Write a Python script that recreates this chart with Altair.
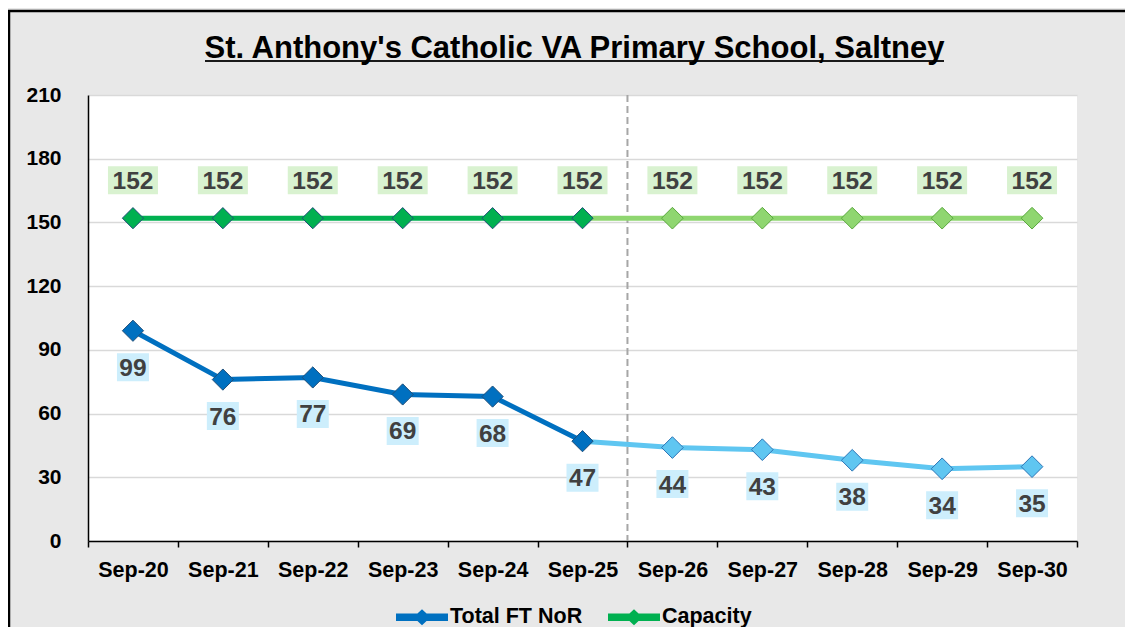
import altair as alt
import pandas as pd

# ---- data ----
categories = ["Sep-20", "Sep-21", "Sep-22", "Sep-23", "Sep-24", "Sep-25",
              "Sep-26", "Sep-27", "Sep-28", "Sep-29", "Sep-30"]
nor_values = [99, 76, 77, 69, 68, 47, 44, 43, 38, 34, 35]
capacity_values = [152, 152, 152, 152, 152, 152, 152, 152, 152, 152, 152]
last_actual = "Sep-25"
first_projected = "Sep-26"
series_names = ["Total FT NoR", "Capacity"]
title_text = "St. Anthony's Catholic VA Primary School, Saltney"

FONT = "Liberation Sans"
W, H = 989, 446

cut = categories.index(last_actual)
rows = []
for i, c in enumerate(categories):
    rows.append({"cat": c, "series": "Total FT NoR", "value": nor_values[i],
                 "actual": i <= cut, "projected": i >= cut})
    rows.append({"cat": c, "series": "Capacity", "value": capacity_values[i],
                 "actual": i <= cut, "projected": i >= cut})
df = pd.DataFrame(rows)
nor = df[df.series == "Total FT NoR"]
cap = df[df.series == "Capacity"]

x_enc = alt.X("cat:N", sort=categories,
              scale=alt.Scale(type="band", paddingInner=0, paddingOuter=0),
              axis=alt.Axis(title=None, labelAngle=0, tickBand="extent", tickSize=6,
                            tickColor="black", tickWidth=1.5, domainColor="black",
                            domainWidth=1.5, labelFont=FONT, labelFontSize=21.5,
                            labelFontWeight="bold", labelColor="black", labelPadding=12,
                            grid=False))
y_enc = alt.Y("value:Q", scale=alt.Scale(domain=[0, 210], nice=False, zero=True),
              axis=alt.Axis(title=None, values=[0, 30, 60, 90, 120, 150, 180, 210],
                            ticks=False, domainColor="black", domainWidth=1.5,
                            gridColor="#d9d9d9", gridWidth=1.5, labelFont=FONT,
                            labelFontSize=21, labelFontWeight="bold", labelColor="black",
                            labelPadding=27))

def X():
    return alt.X("cat:N", sort=categories)

def Y():
    return alt.Y("value:Q")

border = alt.Chart(pd.DataFrame({"a": [0]})).mark_rect(
    filled=False, stroke="black", strokeWidth=2.5
).encode(x=alt.value(-79), x2=alt.value(W + 200), y=alt.value(-84), y2=alt.value(H + 300))

underline = alt.Chart(pd.DataFrame({"a": [0]})).mark_rule(
    color="#1a1a1a", strokeWidth=2
).encode(x=alt.value(117), x2=alt.value(856), y=alt.value(-34))

sep = alt.Chart(pd.DataFrame({"cat": [first_projected]})).mark_rule(
    color="#a6a6a6", strokeWidth=2, strokeDash=[7, 4]
).encode(x=alt.X("cat:N", sort=categories, bandPosition=0), y=alt.value(0), y2=alt.value(H))

base_axes = alt.Chart(df).mark_point(opacity=0).encode(x=x_enc, y=y_enc)

nor_proj_line = alt.Chart(nor[nor.projected]).mark_line(color="#5fc6f1", strokeWidth=5).encode(x=X(), y=Y())
nor_act_line = alt.Chart(nor[nor.actual]).mark_line(color="#0070c0", strokeWidth=5).encode(x=X(), y=Y())
cap_proj_line = alt.Chart(cap[cap.projected]).mark_line(color="#8fd670", strokeWidth=5).encode(x=X(), y=Y())
cap_act_line = alt.Chart(cap[cap.actual]).mark_line(color="#00b050", strokeWidth=5).encode(x=X(), y=Y())

legend_path = "M-1,-0.14L1,-0.14L1,0.14L-1,0.14Z M0,-0.31L0.33,0L0,0.31L-0.33,0Z"

act_points = alt.Chart(df[df.actual]).mark_point(
    filled=True, shape="diamond", size=450, opacity=1, stroke="#1f4e79", strokeWidth=1
).encode(
    x=X(), y=Y(),
    color=alt.Color("series:N",
                    scale=alt.Scale(domain=series_names, range=["#0070c0", "#00b050"]),
                    legend=alt.Legend(title=None, orient="none", legendX=308, legendY=496,
                                      direction="horizontal", symbolType=legend_path,
                                      symbolSize=2704, symbolStrokeWidth=0,
                                      labelFont=FONT, labelFontSize=21.5,
                                      labelFontWeight="bold", labelColor="black",
                                      labelOffset=2, columnPadding=25, padding=0))
)

nor_proj_points = alt.Chart(nor[nor.projected & (nor.cat != last_actual)]).mark_point(
    filled=True, shape="diamond", size=470, opacity=1, fill="#5fc6f1",
    stroke="#2e75b6", strokeWidth=1
).encode(x=X(), y=Y())
cap_proj_points = alt.Chart(cap[cap.projected & (cap.cat != last_actual)]).mark_point(
    filled=True, shape="diamond", size=470, opacity=1, fill="#8fd670",
    stroke="#5aa83e", strokeWidth=1
).encode(x=X(), y=Y())

box_nor = alt.Chart(nor).mark_point(
    filled=True, opacity=1, fill="#cdeefc",
    shape="M-1,-0.875L1,-0.875L1,0.875L-1,0.875Z", size=1024, yOffset=36.5
).encode(x=X(), y=Y())
box_cap = alt.Chart(cap).mark_point(
    filled=True, opacity=1, fill="#d9f2d0",
    shape="M-1,-0.56L1,-0.56L1,0.56L-1,0.56Z", size=2500, yOffset=-38
).encode(x=X(), y=Y())

txt_nor = alt.Chart(nor).mark_text(
    font=FONT, fontSize=24.5, fontWeight="bold", color="#404040", baseline="middle", dy=38
).encode(x=X(), y=Y(), text="value:Q")
txt_cap = alt.Chart(cap).mark_text(
    font=FONT, fontSize=24.5, fontWeight="bold", color="#404040", baseline="middle", dy=-36
).encode(x=X(), y=Y(), text="value:Q")

chart = alt.layer(
    base_axes, border, underline, sep,
    nor_proj_line, cap_proj_line, nor_act_line, cap_act_line,
    act_points, nor_proj_points, cap_proj_points,
    box_nor, box_cap, txt_nor, txt_cap
).properties(
    width=W, height=H,
    title=alt.TitleParams(text=title_text, font=FONT, fontSize=31, fontWeight="bold",
                          color="black", anchor="middle", offset=0, dx=-8, dy=79,
                          baseline="alphabetic"),
    autosize=alt.AutoSizeParams(type="none"),
    padding={"left": 80, "top": 87, "right": 48, "bottom": 86},
).configure(background="#e8e8e8").configure_view(fill="white", stroke=None)

chart.save("out.html", embed_options={"renderer": "svg", "actions": False})
